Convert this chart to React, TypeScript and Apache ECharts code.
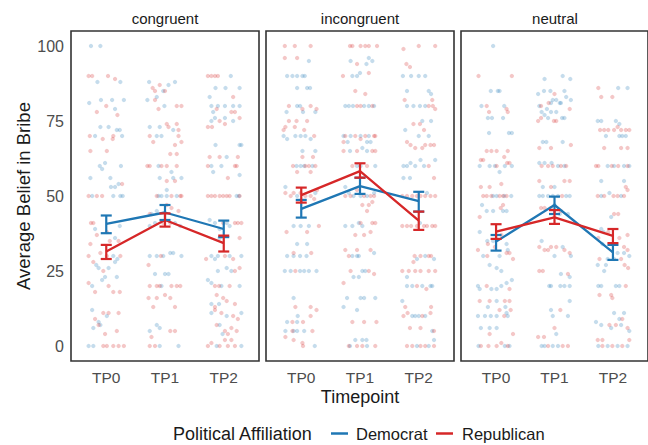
import React, { useEffect, useRef } from "react";
import * as echarts from "echarts";

const conditions = ["congruent", "incongruent", "neutral"];
const timepoints = ["TP0", "TP1", "TP2"];
const yTicks = [0, 25, 50, 75, 100];
const parties = ["Democrat", "Republican"];
const partyColors = ["#1f77b4", "#d62728"];

// Means and error-bar bounds, per condition, [TP0, TP1, TP2]
const congruentDemMean = [40.7, 44.5, 39.0];
const congruentDemLo = [37.6, 42.0, 36.3];
const congruentDemHi = [43.5, 47.0, 41.8];
const congruentRepMean = [31.5, 42.0, 34.3];
const congruentRepLo = [29.0, 39.8, 31.5];
const congruentRepHi = [33.7, 44.2, 36.8];

const incongruentDemMean = [45.7, 53.3, 48.3];
const incongruentDemLo = [42.8, 50.7, 44.8];
const incongruentDemHi = [48.7, 56.1, 51.4];
const incongruentRepMean = [50.3, 58.3, 41.8];
const incongruentRepLo = [47.8, 56.1, 38.7];
const incongruentRepHi = [52.8, 60.9, 44.8];

const neutralDemMean = [34.8, 47.0, 31.2];
const neutralDemLo = [31.8, 44.0, 28.7];
const neutralDemHi = [37.0, 49.8, 33.7];
const neutralRepMean = [38.1, 42.9, 36.7];
const neutralRepLo = [35.7, 40.7, 34.3];
const neutralRepHi = [40.6, 45.3, 39.0];

// Individual responses: [horizontal jitter in hundredths of a category, belief]
const congruentDemTP0 = [[-26,100],[-10,100],[-15,88],[24,88],[-29,81],[-9,82],[10,82],[30,82],[15,79],[-10,73],[4,73],[18,72],[23,72],[-19,70],[27,70],[-2,61],[-7,59],[-11,60],[25,60],[-27,56],[7,56],[21,54],[15,53],[8,53],[-24,50],[12,50],[24,50],[28,50],[-19,39],[23,40],[15,36],[12,30],[19,29],[-17,27],[-13,26],[15,28],[4,26],[-24,20],[18,23],[-7,22],[-2,23],[-24,12],[1,10],[-13,8],[-22,6],[-10,7],[-30,0],[-22,0]];
const congruentRepTP0 = [[-30,90],[-24,90],[3,90],[15,89],[0,80],[-16,78],[19,77],[-28,70],[12,70],[-6,69],[11,69],[-27,65],[1,65],[27,54],[-30,50],[-16,50],[-7,50],[-26,41],[-22,41],[1,38],[-16,37],[-27,34],[6,35],[21,35],[-30,30],[-10,31],[1,30],[24,30],[-22,28],[-5,25],[-30,21],[-19,18],[4,20],[12,18],[23,18],[-19,9],[-5,11],[4,11],[21,11],[-13,7],[-2,4],[18,5],[-5,0],[1,0],[12,0],[21,0],[30,0]];
const congruentDemTP1 = [[-27,88],[6,87],[17,88],[-3,85],[-30,82],[-14,83],[-1,80],[-26,73],[-9,73],[14,72],[-14,70],[-6,70],[-11,60],[11,58],[-9,56],[14,56],[28,56],[3,52],[-11,50],[-6,50],[3,50],[20,50],[-14,45],[-23,44],[-17,41],[-26,40],[17,41],[26,40],[-26,30],[-14,30],[-3,30],[9,31],[14,31],[28,30],[-17,24],[0,24],[6,24],[-6,20],[-26,5],[-14,7],[-9,6],[-9,0],[23,0]];
const congruentRepTP1 = [[-9,87],[-21,86],[-17,85],[0,85],[-17,82],[-11,79],[20,80],[28,80],[3,74],[20,74],[23,72],[6,73],[-26,70],[23,70],[28,68],[-20,68],[17,67],[9,64],[20,64],[-30,60],[-26,60],[-6,60],[3,60],[20,60],[3,55],[17,55],[-14,50],[11,50],[26,50],[28,50],[3,47],[11,46],[23,45],[-26,44],[-3,41],[9,41],[-7,30],[-28,27],[-26,20],[-14,20],[-9,20],[11,20],[20,20],[26,20],[-28,16],[-14,16],[0,17],[9,16],[17,13],[-20,13],[9,5],[17,5],[-23,3],[-26,0],[-17,0]];
const congruentDemTP2 = [[12,90],[-14,86],[3,86],[27,86],[-24,83],[-21,80],[-10,80],[2,80],[16,80],[27,80],[-18,78],[-21,75],[-15,76],[2,76],[16,75],[-14,67],[27,67],[30,67],[5,63],[-21,60],[-4,60],[-18,58],[27,57],[22,50],[26,50],[-24,42],[-15,41],[10,40],[-7,39],[5,41],[-7,36],[-21,30],[-15,29],[-10,30],[10,30],[30,30],[-10,25],[5,26],[13,25],[-27,22],[-21,21],[-4,20],[27,20],[-21,14],[-8,14],[-21,11],[5,10],[30,11],[-7,7],[-2,4],[-12,0],[30,0]];
const congruentRepTP2 = [[-27,90],[-21,90],[-15,90],[-10,90],[16,83],[-12,79],[13,78],[19,78],[-7,75],[27,76],[-27,73],[-20,73],[2,74],[-24,63],[-7,63],[24,63],[-27,60],[22,60],[19,60],[7,56],[-27,50],[-21,50],[-15,50],[-7,50],[-1,50],[5,50],[10,50],[27,50],[-1,41],[19,41],[24,41],[30,41],[27,36],[-30,29],[2,30],[16,29],[19,25],[27,26],[-15,20],[-8,20],[10,20],[-12,17],[-1,16],[5,15],[19,14],[-15,13],[-15,12],[-4,11],[16,10],[24,9],[-12,7],[2,5],[7,4],[13,6],[22,5],[-27,0],[-21,1],[-7,0],[2,2],[7,0],[13,2],[19,0]];

const incongruentDemTP0 = [[13,95],[-24,90],[-15,90],[-7,90],[2,90],[6,90],[-7,86],[10,86],[15,86],[-7,80],[-2,80],[-25,78],[3,78],[24,78],[-30,70],[-24,69],[-10,70],[-1,70],[7,70],[16,69],[2,65],[24,65],[-8,60],[-1,60],[5,60],[19,60],[-27,53],[-7,50],[24,51],[-13,40],[-1,40],[13,40],[-7,34],[10,34],[-24,30],[-13,30],[-2,30],[9,30],[-28,25],[-18,25],[-2,25],[5,25],[13,25],[26,25],[-13,16],[-6,10],[-24,8],[-7,8],[-27,5],[-13,5],[-7,5],[5,5],[23,0]];
const incongruentRepTP0 = [[-28,100],[-11,100],[16,100],[-28,96],[-7,96],[-21,80],[2,79],[16,80],[26,79],[-21,75],[-8,75],[10,75],[-11,73],[-27,73],[5,72],[-30,72],[22,70],[2,63],[20,63],[-14,60],[7,60],[13,60],[24,60],[-7,58],[16,58],[-27,51],[-18,50],[-13,51],[-1,51],[7,50],[16,50],[27,52],[22,49],[30,40],[-25,38],[10,38],[-13,31],[17,31],[-10,25],[-10,13],[16,13],[26,12],[16,10],[-15,8],[3,8],[19,5],[-15,5],[-27,3],[-13,2],[2,1],[3,0]];
const incongruentDemTP1 = [[-16,95],[11,94],[21,95],[15,96],[-13,90],[-5,90],[0,91],[-25,80],[-19,80],[-12,80],[7,80],[15,80],[24,80],[-28,70],[-16,70],[1,70],[15,70],[-21,68],[12,68],[18,68],[-17,65],[4,66],[12,65],[-5,60],[1,60],[26,60],[-25,53],[-19,51],[-11,50],[1,50],[12,50],[24,51],[-25,40],[-13,40],[-2,41],[4,40],[-13,30],[-5,30],[-2,30],[24,31],[4,25],[9,25],[-11,23],[-2,23],[-22,16],[1,16],[7,16],[26,16],[-28,13],[-5,12],[-8,2],[4,2],[11,2],[-17,0],[12,0]];
const incongruentRepTP1 = [[-17,100],[-13,100],[1,100],[9,100],[15,100],[29,100],[-5,94],[-29,90],[15,91],[-8,85],[9,84],[-5,80],[1,80],[21,80],[-25,70],[-8,70],[9,70],[24,70],[26,70],[-28,68],[1,69],[-28,65],[-5,65],[21,65],[26,65],[-13,60],[12,60],[-25,50],[-16,50],[-5,52],[7,50],[18,50],[24,50],[4,47],[15,47],[21,48],[12,45],[1,41],[21,41],[26,41],[-8,37],[7,37],[18,38],[-25,32],[-19,30],[-5,32],[18,32],[-16,25],[15,25],[24,24],[-28,21],[-13,8],[7,8],[28,8],[-19,0],[-5,0],[4,0],[26,0]];
const incongruentDemTP2 = [[-27,90],[-13,90],[0,90],[11,90],[-20,85],[17,85],[21,84],[-20,80],[-9,80],[2,80],[11,80],[6,75],[21,75],[-23,72],[0,70],[17,70],[-26,60],[-20,60],[-14,61],[-6,60],[3,62],[9,60],[28,62],[-26,56],[-15,56],[14,51],[2,41],[11,30],[-3,29],[26,29],[-20,23],[-20,20],[-11,20],[6,20],[20,20],[23,20],[-28,15],[-11,10],[-6,10],[0,10],[11,10],[23,5],[-3,0],[17,0],[26,2]];
const incongruentRepTP2 = [[-26,99],[0,100],[28,100],[-21,94],[-15,93],[-24,82],[17,80],[24,80],[28,79],[23,82],[-9,74],[2,74],[9,72],[-20,68],[-14,67],[-6,66],[6,66],[11,67],[20,67],[26,67],[17,60],[26,56],[-28,50],[-20,50],[-11,50],[-3,50],[3,50],[11,50],[20,50],[28,50],[-28,40],[-20,40],[-13,40],[-3,40],[9,40],[14,40],[23,40],[28,40],[-7,30],[3,30],[17,30],[21,30],[-9,28],[-28,25],[-17,25],[-6,25],[3,25],[17,25],[28,25],[-3,20],[13,19],[-23,13],[21,13],[-26,10],[-19,11],[6,10],[20,11],[-15,6],[3,6],[26,5],[-20,0],[-11,0],[3,0],[11,0],[26,0]];

const neutralDemTP0 = [[-5,100],[-9,85],[3,85],[6,85],[-25,80],[14,80],[-14,76],[-7,76],[12,76],[-12,71],[22,71],[27,71],[-28,60],[-11,60],[-2,60],[6,58],[15,60],[27,60],[-5,50],[1,50],[14,50],[26,50],[-24,47],[-16,45],[-5,45],[12,45],[18,45],[-28,38],[-15,35],[-5,35],[18,34],[20,32],[-22,30],[6,30],[-11,27],[1,26],[9,25],[27,22],[-31,20],[-28,19],[-8,19],[1,19],[9,20],[18,21],[1,15],[-14,13],[16,13],[-31,10],[-19,10],[-9,10],[1,10],[18,11],[20,10],[-26,6],[-11,6],[1,6],[-30,0],[15,0],[23,0]];
const neutralRepTP0 = [[-30,90],[27,90],[-16,80],[-12,78],[18,79],[20,78],[-16,65],[-8,65],[1,65],[20,65],[-26,62],[-22,62],[14,63],[19,61],[23,61],[1,60],[-26,53],[-11,53],[9,54],[-22,50],[-16,50],[-8,50],[6,50],[12,50],[18,50],[12,47],[8,46],[-28,43],[-14,34],[9,37],[-31,32],[-2,33],[23,31],[-15,30],[18,31],[29,29],[-16,20],[23,19],[-28,15],[-11,15],[15,15],[23,15],[6,12],[25,12],[14,10],[-11,4],[29,4],[-26,0],[-13,0],[1,0],[9,1],[20,0]];
const neutralDemTP1 = [[-17,89],[14,90],[27,89],[-28,84],[-18,85],[-7,85],[17,85],[20,83],[-3,82],[3,82],[9,81],[-6,81],[11,81],[28,82],[-26,80],[-13,79],[-6,78],[3,78],[-22,78],[-17,77],[-11,76],[13,76],[17,76],[-20,68],[-14,68],[14,68],[-26,61],[-17,61],[-5,61],[6,60],[17,60],[-20,53],[0,53],[-26,50],[-20,50],[-11,50],[-3,50],[6,50],[20,50],[26,50],[0,47],[9,44],[23,44],[-22,35],[14,33],[0,30],[28,30],[11,24],[26,23],[-9,20],[-6,20],[10,20],[17,20],[26,20],[26,15],[-6,12],[-3,10],[23,10],[3,4],[-22,0],[-17,0],[-3,0],[6,0]];
const neutralRepTP1 = [[0,84],[-10,81],[-23,80],[26,79],[-28,75],[-23,76],[-1,75],[3,75],[-26,66],[-6,66],[28,67],[-11,60],[-3,60],[11,60],[20,60],[-22,60],[-26,55],[-6,53],[17,55],[26,55],[13,50],[-23,46],[-17,46],[-6,46],[11,45],[-26,33],[-17,32],[-11,32],[-6,33],[3,33],[17,32],[26,31],[-26,25],[-20,25],[23,24],[10,12],[0,6],[-18,3],[-28,3],[-11,0],[14,0],[23,0]];
const neutralDemTP2 = [[9,86],[25,86],[-26,75],[-20,75],[5,75],[11,74],[-12,70],[11,70],[16,70],[22,70],[-9,60],[2,60],[19,60],[28,60],[-20,55],[19,55],[-20,50],[-6,51],[14,50],[-3,43],[-20,39],[-16,38],[-18,34],[8,31],[19,31],[28,30],[-9,29],[2,29],[-26,27],[-12,27],[-15,25],[-25,20],[-20,20],[5,20],[11,20],[2,11],[19,11],[11,9],[-29,8],[-20,7],[-3,6],[14,7],[28,5],[-25,0],[-9,0],[8,0],[25,0]];
const neutralRepTP2 = [[-25,86],[-20,83],[-1,83],[-22,72],[-15,72],[-8,72],[2,72],[8,73],[14,72],[22,72],[28,72],[-15,66],[14,66],[25,66],[-29,60],[-25,60],[-2,60],[9,60],[25,60],[-26,50],[-15,50],[1,50],[8,50],[19,50],[25,52],[22,53],[2,44],[9,44],[-8,38],[-25,36],[11,36],[25,37],[19,33],[25,32],[-23,29],[14,29],[20,27],[26,26],[22,20],[-23,17],[-3,17],[-1,16],[16,9],[-6,7],[5,7],[25,6],[-26,2],[-18,2],[28,2],[-18,0],[-1,0],[16,0]];

const pointsByPanel = [
  [[congruentDemTP0, congruentDemTP1, congruentDemTP2], [congruentRepTP0, congruentRepTP1, congruentRepTP2]],
  [[incongruentDemTP0, incongruentDemTP1, incongruentDemTP2], [incongruentRepTP0, incongruentRepTP1, incongruentRepTP2]],
  [[neutralDemTP0, neutralDemTP1, neutralDemTP2], [neutralRepTP0, neutralRepTP1, neutralRepTP2]],
];
const meansByPanel = [
  [congruentDemMean, congruentRepMean],
  [incongruentDemMean, incongruentRepMean],
  [neutralDemMean, neutralRepMean],
];
const losByPanel = [
  [congruentDemLo, congruentRepLo],
  [incongruentDemLo, incongruentRepLo],
  [neutralDemLo, neutralRepLo],
];
const hisByPanel = [
  [congruentDemHi, congruentRepHi],
  [incongruentDemHi, incongruentRepHi],
  [neutralDemHi, neutralRepHi],
];

const FONT = "'Liberation Sans', Arial, sans-serif";
const panelLefts = [71, 266, 461];
const PANEL_TOP = 31;
const PANEL_W = 188;
const PANEL_H = 330;

function buildOption() {
  const grid = panelLefts.map((left) => ({
    left,
    top: PANEL_TOP,
    width: PANEL_W,
    height: PANEL_H,
    show: true,
    borderColor: "#333333",
    borderWidth: 1.6,
    backgroundColor: "#ffffff",
    containLabel: false,
  }));

  const xAxis = panelLefts.map((_, i) => ({
    type: "value",
    gridIndex: i,
    min: 0.4,
    max: 3.6,
    axisLine: { show: false },
    axisTick: { show: false },
    splitLine: { show: false },
    axisLabel: {
      customValues: [1, 2, 3],
      formatter: (v: number) => timepoints[Math.round(v) - 1] ?? "",
      color: "#4d4d4d",
      fontSize: 15.5,
      lineHeight: 15,
      fontFamily: FONT,
      margin: 9,
    },
  }));

  const yAxis = panelLefts.map((_, i) => ({
    type: "value",
    gridIndex: i,
    min: -5,
    max: 105,
    axisLine: { show: false },
    axisTick: { show: false },
    splitLine: { show: false },
    axisLabel: {
      show: i === 0,
      customValues: yTicks,
      color: "#4d4d4d",
      fontSize: 16,
      fontFamily: FONT,
      margin: 7,
    },
  }));

  const scatterSeries: any[] = [];
  const lineSeries: any[] = [];
  const errSeries: any[] = [];

  for (let p = 0; p < 3; p++) {
    for (let k = 0; k < 2; k++) {
      const color = partyColors[k];
      const data: number[][] = [];
      pointsByPanel[p][k].forEach((arr, t) => {
        arr.forEach(([dx, y]) => data.push([t + 1 + dx / 100, y]));
      });
      scatterSeries.push({
        type: "scatter",
        name: parties[k],
        xAxisIndex: p,
        yAxisIndex: p,
        data,
        symbol: "circle",
        symbolSize: 4.3,
        silent: true,
        itemStyle: { color, opacity: 0.26 },
      });
      lineSeries.push({
        type: "line",
        name: parties[k],
        xAxisIndex: p,
        yAxisIndex: p,
        data: meansByPanel[p][k].map((m, t) => [t + 1, m]),
        symbol: "none",
        silent: true,
        lineStyle: { color, width: 2.3 },
        z: 3,
      });
      errSeries.push({
        type: "custom",
        name: parties[k],
        xAxisIndex: p,
        yAxisIndex: p,
        silent: true,
        z: 4,
        data: meansByPanel[p][k].map((_, t) => [t + 1, losByPanel[p][k][t], hisByPanel[p][k][t]]),
        encode: { x: 0, y: [1, 2] },
        renderItem: (params: any, api: any) => {
          const x = api.value(0);
          const top = api.coord([x, api.value(2)]);
          const bot = api.coord([x, api.value(1)]);
          const w = 5.5;
          const style = { stroke: color, lineWidth: 2.2, fill: "none" };
          return {
            type: "group",
            children: [
              { type: "line", shape: { x1: top[0], y1: top[1], x2: bot[0], y2: bot[1] }, style },
              { type: "line", shape: { x1: top[0] - w, y1: top[1], x2: top[0] + w, y2: top[1] }, style },
              { type: "line", shape: { x1: bot[0] - w, y1: bot[1], x2: bot[0] + w, y2: bot[1] }, style },
            ],
          };
        },
      });
    }
  }

  const graphic: any[] = [];
  conditions.forEach((c, i) => {
    graphic.push({
      type: "text",
      x: panelLefts[i] + PANEL_W / 2,
      y: 18,
      style: {
        text: c,
        fill: "#1a1a1a",
        font: `15px ${FONT}`,
        align: "center",
        verticalAlign: "middle",
      },
    });
  });
  graphic.push({
    type: "text",
    x: 23,
    y: 196,
    rotation: Math.PI / 2,
    style: {
      text: "Average Belief in Bribe",
      fill: "#1a1a1a",
      font: `18.5px ${FONT}`,
      align: "center",
      verticalAlign: "middle",
    },
  });
  graphic.push({
    type: "text",
    x: 360,
    y: 397,
    style: {
      text: "Timepoint",
      fill: "#1a1a1a",
      font: `18px ${FONT}`,
      lineHeight: 17,
      align: "center",
      verticalAlign: "middle",
    },
  });
  // legend
  graphic.push({
    type: "text",
    x: 173,
    y: 434,
    style: {
      text: "Political Affiliation",
      fill: "#1a1a1a",
      font: `18px ${FONT}`,
      align: "left",
      verticalAlign: "middle",
    },
  });
  const legendKeys = [331, 436];
  const legendTexts = [356, 462];
  parties.forEach((name, k) => {
    graphic.push({
      type: "line",
      shape: { x1: legendKeys[k], y1: 433.5, x2: legendKeys[k] + 17, y2: 433.5 },
      style: { stroke: partyColors[k], lineWidth: 2.5 },
    });
    graphic.push({
      type: "text",
      x: legendTexts[k],
      y: 434,
      style: {
        text: name,
        fill: "#1a1a1a",
        font: `16.5px ${FONT}`,
        align: "left",
        verticalAlign: "middle",
      },
    });
  });

  return {
    animation: false,
    backgroundColor: "#ffffff",
    textStyle: { fontFamily: FONT },
    grid,
    xAxis,
    yAxis,
    series: [...scatterSeries, ...lineSeries, ...errSeries],
    graphic,
  };
}

export default function App() {
  const ref = useRef<HTMLDivElement>(null);
  useEffect(() => {
    document.body.style.margin = "0";
    if (!ref.current) return;
    const chart = echarts.init(ref.current, undefined, { renderer: "svg" });
    chart.setOption(buildOption() as any);
    return () => {
      chart.dispose();
    };
  }, []);
  return <div ref={ref} style={{ width: 648, height: 445 }} />;
}
